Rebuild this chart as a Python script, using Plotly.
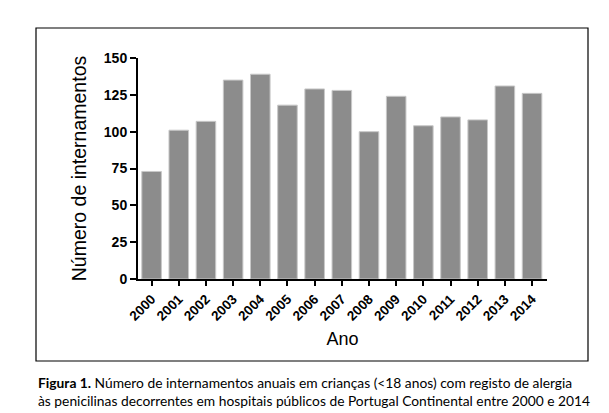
import plotly.graph_objects as go

anos = ["2000", "2001", "2002", "2003", "2004", "2005", "2006", "2007",
        "2008", "2009", "2010", "2011", "2012", "2013", "2014"]
internamentos = [73, 101, 107, 135, 139, 118, 129, 128, 100, 124, 104, 110, 108, 131, 126]
y_ticks = [0, 25, 50, 75, 100, 125, 150]

fig = go.Figure()
fig.add_trace(go.Bar(
    x=list(range(len(anos))), y=internamentos,
    marker=dict(color="#8c8c8c", line=dict(color="#c8c8c8", width=1)),
    width=0.72,
))

W, H = 609, 413
L, R, T, B = 130, 70, 50, 142

fig.update_layout(
    width=W, height=H,
    margin=dict(l=L, r=R, t=T, b=B, pad=0),
    paper_bgcolor="white", plot_bgcolor="white",
    showlegend=False,
    font=dict(family="Liberation Sans, Arial, sans-serif", color="black"),
    xaxis=dict(
        range=[-0.5, 14.55],
        tickmode="array", tickvals=list(range(len(anos))), ticktext=anos,
        tickangle=-45,
        tickfont=dict(size=13.5, family="Liberation Sans", weight="bold"),
        ticks="outside", ticklen=5, tickwidth=2, tickcolor="black",
        showline=True, linecolor="black", linewidth=2,
        showgrid=False, zeroline=False, fixedrange=True,
        title=dict(text="Ano", font=dict(size=18), standoff=10),
    ),
    yaxis=dict(
        range=[0, 150],
        tickmode="array", tickvals=y_ticks,
        tickfont=dict(size=14, family="Liberation Sans", weight="bold"),
        ticks="outside", ticklen=6, tickwidth=2, tickcolor="black",
        showline=True, linecolor="black", linewidth=2,
        showgrid=False, zeroline=False, fixedrange=True,
        title=dict(text="Número de internamentos", font=dict(size=19.5), standoff=12),
    ),
)

def px_x(v):
    return (v - L) / (W - L - R)

def px_y(v):
    return (H - B - v) / (H - T - B)

# outer frame
fig.add_shape(type="rect", xref="paper", yref="paper",
              x0=px_x(28), x1=px_x(580), y0=px_y(353), y1=px_y(20),
              line=dict(color="black", width=1.2), fillcolor="rgba(0,0,0,0)")

caption_lines = [
    "<b>Figura 1.</b> Número de internamentos anuais em crianças (<18 anos) com registo de alergia",
    "às penicilinas decorrentes em hospitais públicos de Portugal Continental entre 2000 e 2014",
]
caption_y = [374, 392]
for txt, yy in zip(caption_lines, caption_y):
    fig.add_annotation(text=txt, xref="paper", yref="paper",
                       x=px_x(28), xanchor="left",
                       y=px_y(yy), yanchor="middle",
                       align="left", showarrow=False,
                       font=dict(family="Lato", size=13.8, color="black"))

fig.write_html("out.html")
